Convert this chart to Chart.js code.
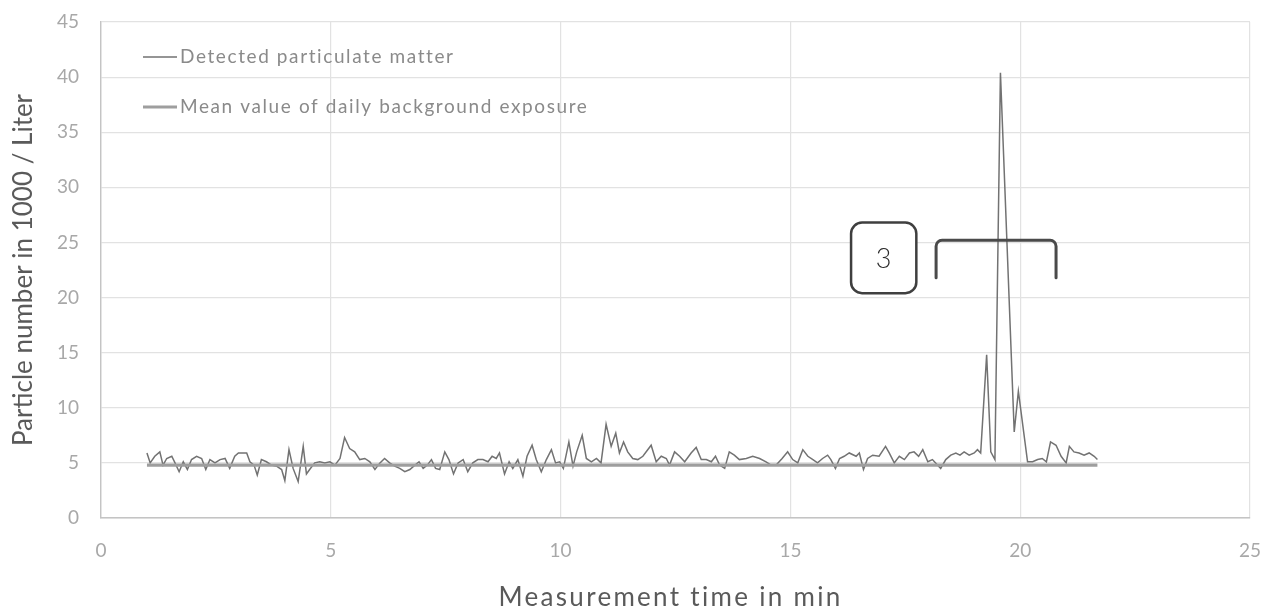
<!DOCTYPE html>
<html>
<head>
<meta charset="utf-8">
<script src="https://cdn.jsdelivr.net/npm/chart.js@4.4.1/dist/chart.umd.min.js"></script>
<style>
  html, body { margin: 0; padding: 0; background: #ffffff; }
  #wrap { width: 1268px; height: 613px; }
</style>
</head>
<body>
<div id="wrap"><canvas id="chart" width="1268" height="613"></canvas></div>
<script>
// Measurement times (min) of the particle counter samples
const sampleTimes = [
  1.00, 1.07, 1.17, 1.28, 1.35, 1.43, 1.54, 1.61, 1.70, 1.79, 1.88, 1.97,
  2.08, 2.19, 2.28, 2.37, 2.48, 2.59, 2.70, 2.80, 2.91, 2.99, 3.09, 3.17,
  3.24, 3.33, 3.40, 3.49, 3.60, 3.71, 3.82, 3.93, 4.00, 4.09, 4.18, 4.29,
  4.40, 4.47, 4.54, 4.65, 4.76, 4.87, 4.98, 5.09, 5.20, 5.30, 5.41, 5.52,
  5.63, 5.74, 5.85, 5.96, 6.07, 6.17, 6.28, 6.39, 6.50, 6.61, 6.72, 6.83,
  6.92, 7.01, 7.10, 7.19, 7.28, 7.37, 7.48, 7.57, 7.67, 7.77, 7.88, 7.98,
  8.09, 8.20, 8.31, 8.42, 8.51, 8.60, 8.67, 8.78, 8.88, 8.96, 9.07, 9.18,
  9.27, 9.38, 9.47, 9.58, 9.69, 9.80, 9.89, 9.98, 10.06, 10.18, 10.27, 10.35,
  10.47, 10.56, 10.67, 10.78, 10.88, 10.99, 11.10, 11.20, 11.28, 11.37, 11.46, 11.57,
  11.68, 11.79, 11.97, 12.08, 12.19, 12.30, 12.37, 12.48, 12.59, 12.70, 12.84, 12.95,
  13.06, 13.17, 13.28, 13.37, 13.46, 13.57, 13.67, 13.78, 13.89, 14.04, 14.18, 14.33,
  14.47, 14.58, 14.69, 14.82, 14.94, 15.05, 15.16, 15.27, 15.38, 15.49, 15.59, 15.70,
  15.81, 15.88, 15.98, 16.07, 16.17, 16.28, 16.43, 16.50, 16.59, 16.68, 16.79, 16.93,
  17.07, 17.15, 17.26, 17.37, 17.48, 17.59, 17.69, 17.79, 17.88, 17.99, 18.09, 18.20,
  18.27, 18.38, 18.49, 18.60, 18.69, 18.78, 18.89, 19.00, 19.07, 19.14, 19.27, 19.36,
  19.45, 19.57, 19.87, 19.96, 20.16, 20.27, 20.38, 20.48, 20.57, 20.66, 20.78, 20.89,
  21.00, 21.07, 21.17, 21.28, 21.39, 21.50, 21.61, 21.68
];

// Detected particle number (1000 / Liter)
const particleCounts = [
  5.9, 5.0, 5.6, 6.0, 4.8, 5.4, 5.6, 5.0, 4.2, 5.1, 4.4, 5.3,
  5.6, 5.4, 4.4, 5.3, 5.0, 5.3, 5.4, 4.5, 5.6, 5.9, 5.9, 5.9,
  5.1, 4.8, 3.9, 5.3, 5.1, 4.8, 4.7, 4.4, 3.4, 6.2, 4.5, 3.3,
  6.5, 4.0, 4.4, 5.0, 5.1, 5.0, 5.1, 4.8, 5.4, 7.3, 6.3, 6.0,
  5.3, 5.4, 5.1, 4.4, 5.0, 5.4, 5.0, 4.7, 4.5, 4.2, 4.4, 4.8,
  5.1, 4.5, 4.8, 5.3, 4.5, 4.4, 6.0, 5.3, 4.0, 5.0, 5.3, 4.2,
  5.0, 5.3, 5.3, 5.1, 5.6, 5.4, 5.9, 4.0, 5.1, 4.5, 5.3, 3.8,
  5.6, 6.6, 5.3, 4.2, 5.3, 6.2, 5.0, 5.1, 4.5, 6.9, 4.7, 6.0,
  7.5, 5.4, 5.1, 5.4, 5.0, 8.5, 6.5, 7.7, 5.9, 6.9, 6.0, 5.4,
  5.3, 5.6, 6.6, 5.1, 5.6, 5.4, 4.8, 6.0, 5.6, 5.1, 5.9, 6.4,
  5.3, 5.3, 5.1, 5.6, 4.8, 4.5, 6.0, 5.7, 5.3, 5.4, 5.6, 5.4,
  5.1, 4.8, 4.8, 5.4, 6.0, 5.3, 5.0, 6.2, 5.6, 5.3, 5.0, 5.4,
  5.7, 5.3, 4.5, 5.4, 5.6, 5.9, 5.6, 5.9, 4.4, 5.4, 5.7, 5.6,
  6.5, 5.9, 5.0, 5.6, 5.3, 5.9, 6.0, 5.6, 6.2, 5.1, 5.3, 4.8,
  4.5, 5.3, 5.7, 5.9, 5.7, 6.0, 5.7, 5.9, 6.2, 5.9, 14.8, 6.0,
  5.3, 40.4, 7.8, 11.5, 5.1, 5.1, 5.3, 5.4, 5.1, 6.9, 6.6, 5.6,
  5.0, 6.5, 6.0, 5.9, 5.7, 5.9, 5.6, 5.3
];

// Mean daily background exposure, drawn over the measurement period
const backgroundTimes = [1.00, 21.68];
const backgroundLevel = [4.8, 4.8];

const xTicks = [0, 5, 10, 15, 20, 25];
const yTicks = [0, 5, 10, 15, 20, 25, 30, 35, 40, 45];

const seriesLabels = ['Detected particulate matter', 'Mean value of daily background exposure'];
const xAxisTitle = 'Measurement time in min';
const yAxisTitle = 'Particle number in 1000 / Liter';

const toPoints = (xs, ys) => xs.map((x, i) => ({ x: x, y: ys[i] }));

const FONT = 'Lato, "Open Sans", "DejaVu Sans", sans-serif';

// Legend drawn inside the plot area, top-left
const insideLegend = {
  id: 'insideLegend',
  afterDraw(chart) {
    const ctx = chart.ctx;
    const area = chart.chartArea;
    const rows = [
      { ds: chart.data.datasets[0], y: area.top + 35 },
      { ds: chart.data.datasets[1], y: area.top + 85 }
    ];
    ctx.save();
    rows.forEach(r => {
      ctx.strokeStyle = r.ds.borderColor;
      ctx.lineWidth = r.ds.borderWidth;
      ctx.beginPath();
      ctx.moveTo(area.left + 42, r.y);
      ctx.lineTo(area.left + 76, r.y);
      ctx.stroke();
      ctx.fillStyle = '#8a8a8a';
      ctx.font = '19px ' + FONT;
      ctx.letterSpacing = '1.6px';
      ctx.textBaseline = 'middle';
      ctx.textAlign = 'left';
      ctx.fillText(r.ds.label, area.left + 79, r.y);
    });
    ctx.restore();
  }
};

// Horizontal axis title, letter-spaced, centred under the plot area
const xTitle = {
  id: 'xTitle',
  afterDraw(chart) {
    const ctx = chart.ctx;
    const area = chart.chartArea;
    ctx.save();
    ctx.fillStyle = '#5a5a5a';
    ctx.font = '26px ' + FONT;
    ctx.letterSpacing = '2.3px';
    ctx.textAlign = 'center';
    ctx.textBaseline = 'middle';
    ctx.fillText(xAxisTitle, (area.left + area.right) / 2 - 5, 598);
    ctx.restore();
  }
};

// Numbered marker box and bracket over the peak region
const peakMarker = {
  id: 'peakMarker',
  afterDatasetsDraw(chart) {
    const ctx = chart.ctx;
    const xs = chart.scales.x, ys = chart.scales.y;
    ctx.save();
    const bx0 = xs.getPixelForValue(16.32), bx1 = xs.getPixelForValue(17.74);
    const by0 = ys.getPixelForValue(26.8), by1 = ys.getPixelForValue(20.4);
    ctx.fillStyle = '#ffffff';
    ctx.strokeStyle = '#3f3f3f';
    ctx.lineWidth = 2.5;
    ctx.beginPath();
    ctx.roundRect(bx0, by0, bx1 - bx0, by1 - by0, 11);
    ctx.fill();
    ctx.stroke();
    ctx.fillStyle = '#2b2b2b';
    ctx.font = '300 27px ' + FONT;
    ctx.textAlign = 'center';
    ctx.textBaseline = 'middle';
    ctx.fillText('3', (bx0 + bx1) / 2, (by0 + by1) / 2 + 1);
    const kx0 = xs.getPixelForValue(18.17), kx1 = xs.getPixelForValue(20.78);
    const ky0 = ys.getPixelForValue(25.2), ky1 = ys.getPixelForValue(21.8);
    ctx.strokeStyle = '#4a4a4a';
    ctx.lineWidth = 3;
    ctx.lineJoin = 'round';
    ctx.lineCap = 'round';
    ctx.beginPath();
    ctx.moveTo(kx0, ky1);
    ctx.arcTo(kx0, ky0, kx0 + 8, ky0, 6);
    ctx.arcTo(kx1, ky0, kx1, ky0 + 8, 6);
    ctx.lineTo(kx1, ky1);
    ctx.stroke();
    ctx.restore();
  }
};

new Chart(document.getElementById('chart'), {
  type: 'line',
  data: {
    datasets: [
      {
        label: seriesLabels[0],
        data: toPoints(sampleTimes, particleCounts),
        borderColor: '#727272',
        borderWidth: 1.5,
        pointRadius: 0,
        tension: 0,
        order: 1
      },
      {
        label: seriesLabels[1],
        data: toPoints(backgroundTimes, backgroundLevel),
        borderColor: '#9e9e9e',
        borderWidth: 3.2,
        pointRadius: 0,
        tension: 0,
        order: 0
      }
    ]
  },
  options: {
    responsive: false,
    animation: false,
    layout: { padding: { top: 22, right: 18, bottom: 0, left: 0 } },
    plugins: {
      legend: { display: false },
      tooltip: { enabled: false }
    },
    scales: {
      x: {
        type: 'linear',
        min: xTicks[0],
        max: xTicks[xTicks.length - 1],
        afterBuildTicks: s => { s.ticks = xTicks.map(v => ({ value: v })); },
        afterFit: s => { s.height = 613 - 518; s.paddingLeft = 0; s.paddingRight = 0; },
        grid: { color: '#e2e2e2', lineWidth: 1.2, drawTicks: false },
        border: { color: '#c4c4c4', width: 1.4 },
        ticks: { color: '#a8a8a8', font: { family: FONT, size: 19 }, padding: 21 },
        title: { display: false }
      },
      y: {
        type: 'linear',
        min: yTicks[0],
        max: yTicks[yTicks.length - 1],
        afterBuildTicks: s => { s.ticks = yTicks.map(v => ({ value: v })); },
        afterFit: s => { s.width = 101; s.paddingTop = 0; s.paddingBottom = 0; },
        grid: { color: '#e2e2e2', lineWidth: 1.2, drawTicks: false },
        border: { color: '#c4c4c4', width: 1.4 },
        ticks: { color: '#a8a8a8', font: { family: FONT, size: 19 }, padding: 22 },
        title: {
          display: true,
          text: yAxisTitle,
          color: '#5a5a5a',
          font: { family: FONT, size: 26 },
          padding: { top: 8, bottom: 0 }
        }
      }
    }
  },
  plugins: [peakMarker, insideLegend, xTitle]
});
</script>
</body>
</html>
